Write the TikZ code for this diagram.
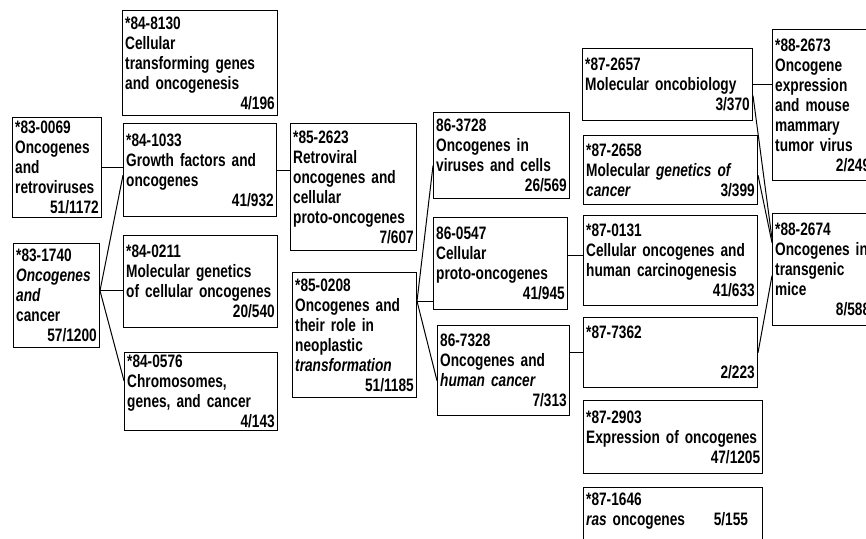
\documentclass[tikz,border=0pt]{standalone}
\usepackage{fontspec}
\newfontfamily\boxfont[FakeStretch=0.76]{Liberation Sans}
\newcommand{\boxtext}{\boxfont\bfseries\fontsize{18pt}{20pt}\selectfont\hyphenpenalty=10000\relax}
\newcommand{\cnt}[1]{\hskip 0pt plus 1filll #1}

\begin{document}
\begin{tikzpicture}[x=1pt, y=-1pt,
  paper/.style={draw, line width=1.4pt, anchor=north west, align=left,
    inner xsep=2.5pt, inner ysep=2pt, font=\boxtext},
  link/.style={line width=1pt}]
\useasboundingbox (0,0) rectangle (866,538);

% 1983
\node[paper, text width=83.6pt, minimum height=100pt] (a1) at (12,117)
  {*83-0069\\Oncogenes\\and\\retroviruses\\\cnt{51/1172}};
\node[paper, text width=80.6pt, minimum height=104pt] (a2) at (13,243)
  {*83-1740\\\textit{Oncogenes}\\\textit{and}\\cancer\\\cnt{57/1200}};

% 1984
\node[paper, text width=149.6pt, minimum height=105pt] (b1) at (122,10)
  {*84-8130\\Cellular\\transforming genes\\and oncogenesis\\\cnt{4/196}};
\node[paper, text width=147.6pt, minimum height=93pt] (b2) at (123,123)
  {*84-1033\\Growth factors and\\oncogenes\\\cnt{41/932}};
\node[paper, text width=148.6pt, minimum height=92pt] (b3) at (123,235)
  {*84-0211\\Molecular genetics\\of cellular oncogenes\\\cnt{20/540}};
\node[paper, text width=147.6pt, minimum height=78pt] (b4) at (124,352)
  {*84-0576\\Chromosomes,\\genes, and cancer\\\cnt{4/143}};

% 1985
\node[paper, text width=120.6pt, minimum height=127pt] (c1) at (290,123)
  {*85-2623\\Retroviral\\oncogenes and\\cellular\\proto-oncogenes\\\cnt{7/607}};
\node[paper, text width=118.6pt, minimum height=125pt] (c2) at (292,272)
  {*85-0208\\Oncogenes and\\their role in\\neoplastic\\\textit{transformation}\\\cnt{51/1185}};

% 1986
\node[paper, text width=130.6pt, minimum height=86pt] (d1) at (433,112)
  {86-3728\\Oncogenes in\\viruses and cells\\\cnt{26/569}};
\node[paper, text width=128.6pt, minimum height=92pt] (d2) at (433,217)
  {86-0547\\Cellular\\proto-oncogenes\\\cnt{41/945}};
\node[paper, text width=126.6pt, minimum height=90pt] (d3) at (437,325)
  {86-7328\\Oncogenes and\\\textit{human cancer}\\\cnt{7/313}};

% 1987
\node[paper, text width=164.6pt, minimum height=72pt] (e1) at (582,48)
  {*87-2657\\Molecular oncobiology\\\cnt{3/370}};
\node[paper, text width=168.6pt, minimum height=69pt] (e2) at (583,135)
  {*87-2658\\Molecular \textit{genetics of}\\\textit{cancer}\cnt{3/399}};
\node[paper, text width=168.6pt, minimum height=90pt] (e3) at (583,215)
  {*87-0131\\Cellular oncogenes and\\human carcinogenesis\\\cnt{41/633}};
\node[paper, text width=168.6pt, minimum height=70pt] (e4) at (583,317)
  {*87-7362\\\mbox{}\\\cnt{2/223}};
\node[paper, text width=174pt, minimum height=73pt] (e5) at (583,400)
  {*87-2903\\Expression of oncogenes\\\cnt{47/1205}};
\node[paper, text width=174pt, minimum height=64pt] (e6) at (583,487)
  {*87-1646\\\textit{ras} oncogenes\hskip 1.6em 5/155\\\mbox{}};

% 1988
\node[paper, text width=95pt, minimum height=151pt] (f1) at (772,29)
  {*88-2673\\Oncogene\\expression\\and mouse\\mammary\\tumor virus\\\cnt{2/249}};
\node[paper, text width=95pt, minimum height=112pt] (f2) at (772,213)
  {*88-2674\\Oncogenes in\\transgenic\\mice\\\cnt{8/588}};

% links
\draw[link] (a1.east) -- (a1.east -| b2.west);
\draw[link] ([yshift=5pt]a2.east) -- ([yshift=-5pt]b2.west);
\draw[link] ([yshift=5pt]a2.east) -- ([yshift=-9pt]b3.west);
\draw[link] ([yshift=5pt]a2.east) -- ([yshift=11pt]b4.west);
\draw[link] (b2.east) -- (b2.east -| c1.west);
\draw[link] ([yshift=34pt]c2.east) -- ([yshift=-10pt]d1.west);
\draw[link] ([yshift=34pt]c2.east) -- ([yshift=34pt]c2.east -| d2.west);
\draw[link] ([yshift=34pt]c2.east) -- ([yshift=-10pt]d3.west);
\draw[link] ([yshift=8pt]d2.east) -- ([yshift=8pt]d2.east -| e3.west);
\draw[link] (e4.west -| d3.east) -- (e4.west);
\draw[link] (e1.east) -- (e1.east -| f1.west);
\draw[link] ([yshift=-11pt]e1.east) -- ([yshift=31pt]f2.west);
\draw[link] ([yshift=-5pt]e2.east) -- ([yshift=27pt]f2.west);
\draw[link] (e4.east) -- ([yshift=-6pt]f2.west);
\end{tikzpicture}
\end{document}
